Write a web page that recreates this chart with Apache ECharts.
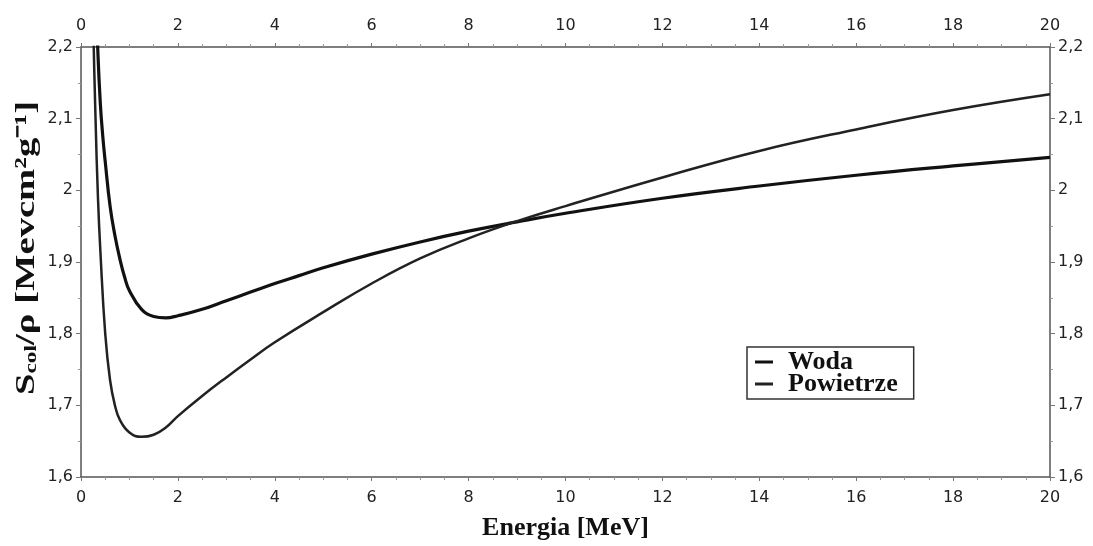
<!DOCTYPE html>
<html>
<head>
<meta charset="utf-8">
<script src="https://cdn.jsdelivr.net/npm/echarts@6/dist/echarts.min.js"></script>
<style>html,body{margin:0;padding:0;background:#fff;}#c{width:1093px;height:546px;}</style>
</head>
<body>
<div id="c"></div>
<script>
// Energy (MeV)
const energyWoda = [0.25, 0.3, 0.35, 0.4, 0.45, 0.5, 0.6, 0.7, 0.8, 0.9, 1.0, 1.25, 1.5, 1.75, 2, 2.5, 3, 3.5, 4, 4.5, 5, 6, 7, 8, 9, 10, 12, 14, 16, 18, 20];
const woda =       [2.52, 2.30, 2.19, 2.12, 2.075, 2.04, 1.978, 1.937, 1.905, 1.879, 1.860, 1.834, 1.824, 1.822, 1.825, 1.834, 1.846, 1.858, 1.870, 1.881, 1.892, 1.911, 1.928, 1.943, 1.956, 1.968, 1.989, 2.006, 2.021, 2.034, 2.046];
const energyPowietrze = [0.22, 0.25, 0.3, 0.35, 0.4, 0.5, 0.6, 0.7, 0.8, 1.0, 1.25, 1.5, 1.75, 2, 2.5, 3, 3.5, 4, 5, 6, 7, 8, 9, 10, 12, 14, 16, 18, 20];
const powietrze =       [2.36, 2.24, 2.10, 1.99, 1.915, 1.80, 1.735, 1.700, 1.680, 1.662, 1.656, 1.659, 1.669, 1.685, 1.713, 1.739, 1.764, 1.788, 1.830, 1.870, 1.905, 1.933, 1.957, 1.978, 2.018, 2.055, 2.085, 2.112, 2.134];
const xTicks = [0, 2, 4, 6, 8, 10, 12, 14, 16, 18, 20];
const yTicks = [1.6, 1.7, 1.8, 1.9, 2.0, 2.1, 2.2];
const seriesNames = ['Woda', 'Powietrze'];
const xName = 'Energia [MeV]';
const yNameRich = '{m|S}{s|col}{m|/ρ [Mevcm²g⁻¹]}';

const fmtY = v => String(Math.round(v * 10) / 10).replace('.', ',');
const axisLineStyle = { color: '#555', width: 1.5 };
const labelStyle = { fontFamily: 'DejaVu Sans', fontSize: 16, color: '#222' };
const serif = 'Liberation Serif';

const chart = echarts.init(document.getElementById('c'));
chart.setOption({
  animation: false,
  backgroundColor: '#fff',
  grid: { left: 81, right: 43, top: 47, bottom: 69, containLabel: false, outerBoundsMode: 'none' },
  legend: {
    orient: 'vertical',
    left: 747, top: 347,
    padding: [2, 16, 2, 8],
    itemGap: -4,
    itemWidth: 18, itemHeight: 3,
    icon: 'rect',
    borderColor: '#333', borderWidth: 1.5,
    backgroundColor: '#fff',
    textStyle: { fontFamily: serif, fontWeight: 'bold', fontSize: 26, color: '#111', padding: [0, 0, 0, 10] },
    data: seriesNames
  },
  graphic: [
    {
      type: 'text',
      x: 27, y: 248,
      rotation: Math.PI / 2,
      scaleX: 1.38,
      style: {
        text: yNameRich,
        align: 'center', verticalAlign: 'middle',
        font: 'bold 28px "Liberation Serif"',
        fill: '#111',
        rich: {
          m: { fontFamily: serif, fontWeight: 'bold', fontSize: 28, fill: '#111', lineHeight: 30 },
          s: { fontFamily: serif, fontWeight: 'bold', fontSize: 17, fill: '#111', lineHeight: 30, padding: [10, 0, 0, 0] }
        }
      }
    }
  ],
  xAxis: [
    {
      type: 'value', position: 'bottom', min: xTicks[0], max: xTicks[xTicks.length - 1], interval: 2,
      name: xName, nameLocation: 'middle', nameGap: 38,
      nameTextStyle: { fontFamily: serif, fontWeight: 'bold', fontSize: 26, color: '#111' },
      axisLine: { show: true, onZero: false, lineStyle: axisLineStyle },
      axisTick: { show: true, length: 4, lineStyle: { color: '#777' } },
      minorTick: { show: true, splitNumber: 4, length: 3, lineStyle: { color: '#999' } },
      splitLine: { show: false },
      axisLabel: Object.assign({ margin: 13 }, labelStyle)
    },
    {
      type: 'value', position: 'top', min: xTicks[0], max: xTicks[xTicks.length - 1], interval: 2,
      axisLine: { show: true, onZero: false, lineStyle: axisLineStyle },
      axisTick: { show: true, length: 4, lineStyle: { color: '#777' } },
      minorTick: { show: true, splitNumber: 4, length: 3, lineStyle: { color: '#999' } },
      splitLine: { show: false },
      axisLabel: Object.assign({ margin: 13 }, labelStyle)
    }
  ],
  yAxis: [
    {
      type: 'value', position: 'left', min: yTicks[0], max: yTicks[yTicks.length - 1], interval: 0.1,
      axisLine: { show: true, onZero: false, lineStyle: axisLineStyle },
      axisTick: { show: true, length: 5, lineStyle: { color: '#777' } },
      minorTick: { show: true, splitNumber: 2, length: 3, lineStyle: { color: '#999' } },
      splitLine: { show: false },
      axisLabel: Object.assign({ margin: 8, formatter: fmtY }, labelStyle)
    },
    {
      type: 'value', position: 'right', min: yTicks[0], max: yTicks[yTicks.length - 1], interval: 0.1,
      axisLine: { show: true, onZero: false, lineStyle: axisLineStyle },
      axisTick: { show: true, length: 5, lineStyle: { color: '#777' } },
      minorTick: { show: true, splitNumber: 2, length: 3, lineStyle: { color: '#999' } },
      splitLine: { show: false },
      axisLabel: Object.assign({ margin: 8, formatter: fmtY }, labelStyle)
    }
  ],
  series: [
    {
      name: seriesNames[0], type: 'line', xAxisIndex: 0, yAxisIndex: 0, smooth: 0.45, showSymbol: false, clip: true,
      color: '#111', lineStyle: { color: '#111', width: 3.2 },
      data: energyWoda.map((e, i) => [e, woda[i]])
    },
    {
      name: seriesNames[1], type: 'line', xAxisIndex: 0, yAxisIndex: 0, smooth: 0.45, showSymbol: false, clip: true,
      color: '#222', lineStyle: { color: '#222', width: 2.5 },
      data: energyPowietrze.map((e, i) => [e, powietrze[i]])
    }
  ]
});
</script>
</body>
</html>
